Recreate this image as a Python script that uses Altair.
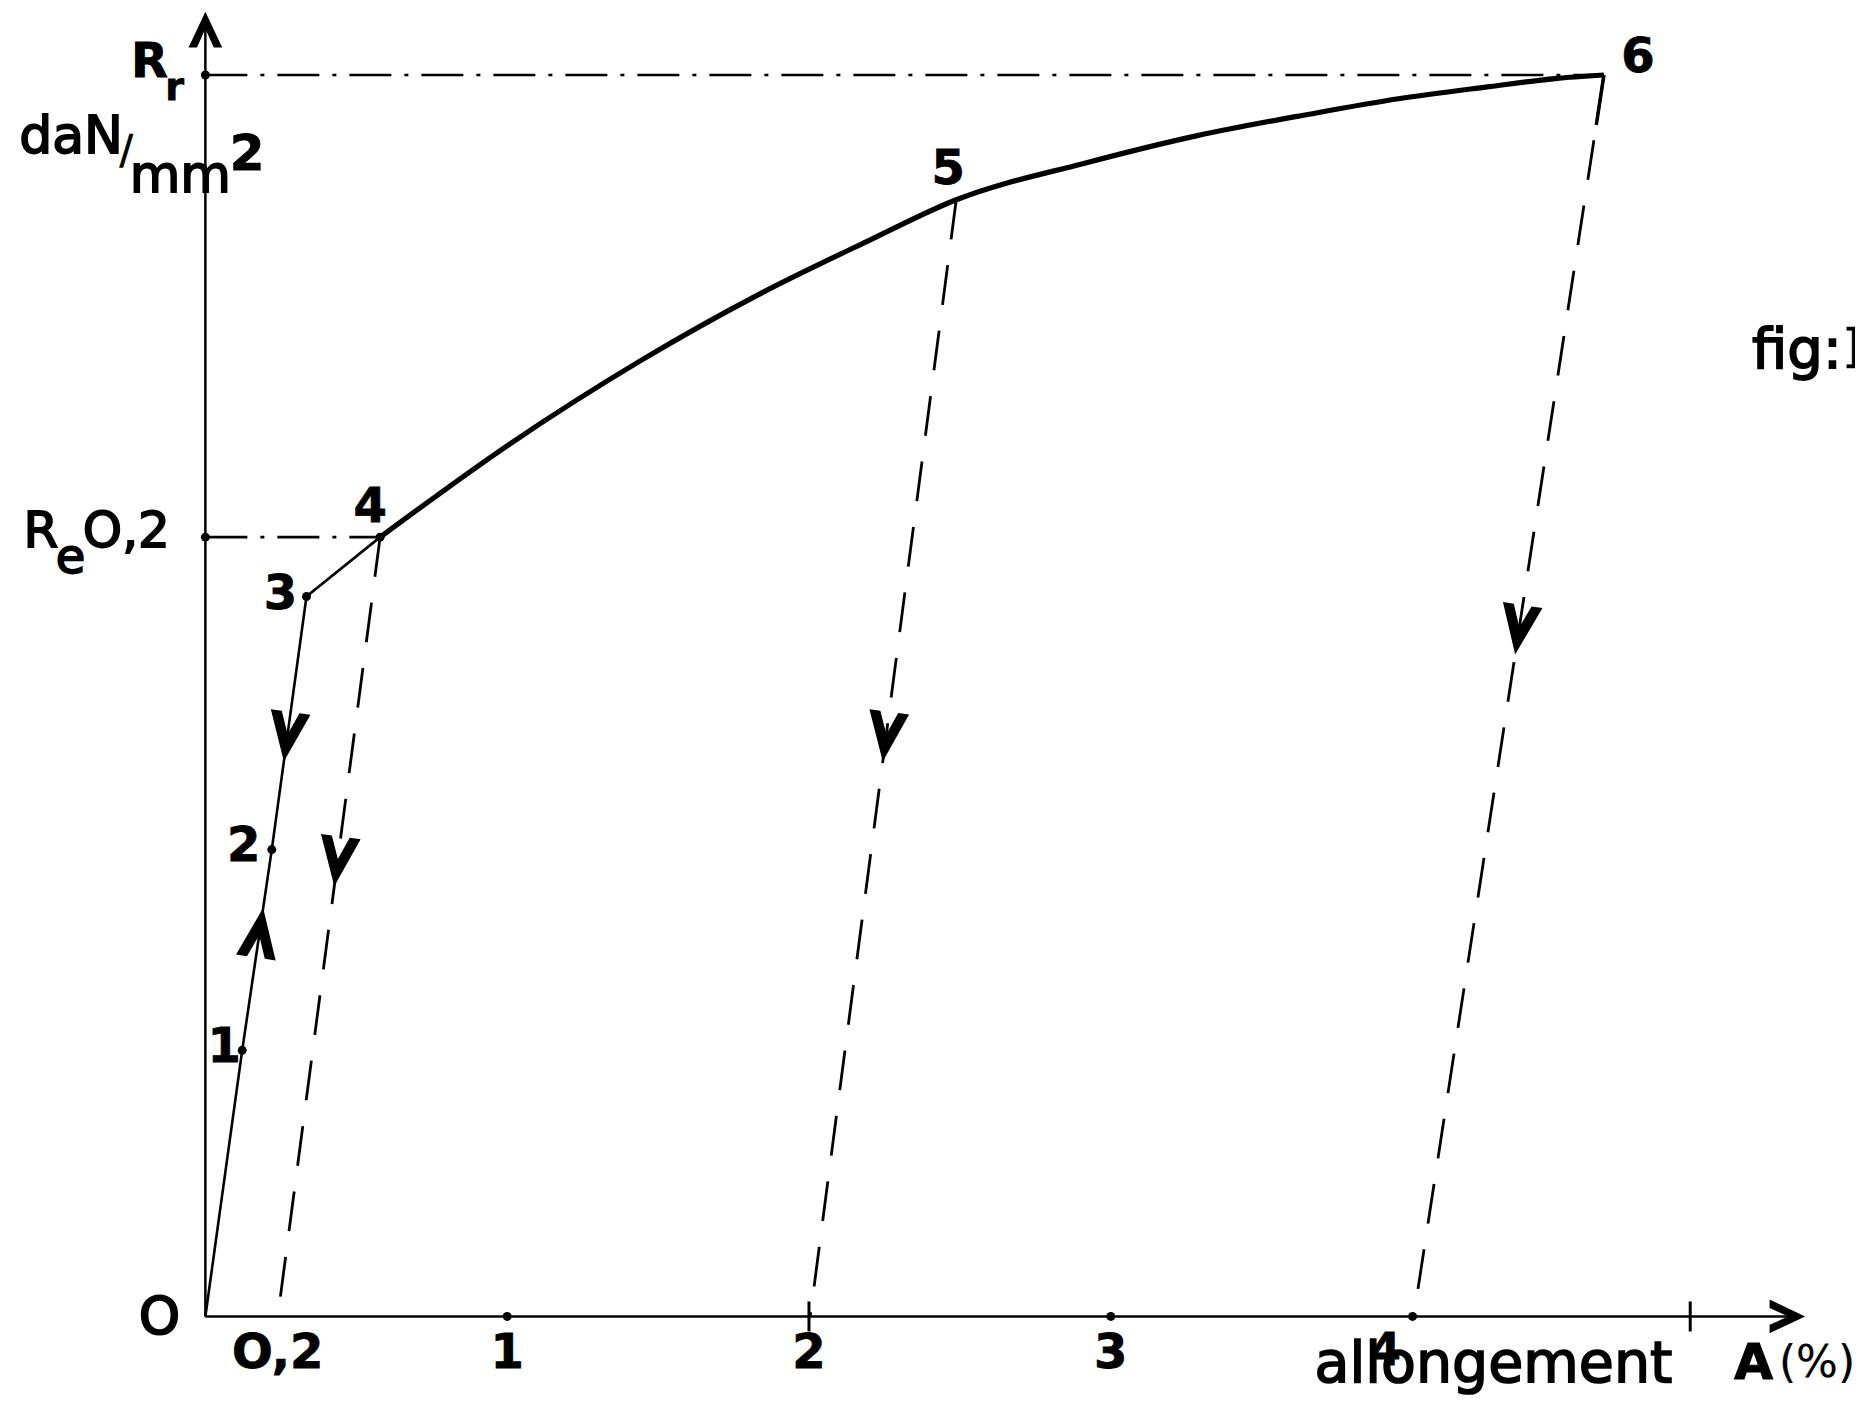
import math
import altair as alt
import pandas as pd

# ---------------- data ----------------
# elastic loading O -> 1 -> 2 -> 3   (x: elongation A %, y: stress, arbitrary units)
load_x = [0.0, 0.122, 0.220, 0.335]
load_y = [0.0, 2.24, 3.93, 6.06]
# plastic curve 4 -> 5 -> 6
curve_x = [0.579, 1.012, 1.445, 1.839, 2.193, 2.488, 2.917, 3.287, 3.657, 3.953, 4.248, 4.472, 4.634]
curve_y = [6.56, 7.35, 8.05, 8.61, 9.05, 9.40, 9.71, 9.94, 10.12, 10.25, 10.35, 10.42, 10.45]
# numbered points
pt_names = ["1", "2", "3", "4", "5", "6"]
pt_x = [0.122, 0.220, 0.335, 0.579, 2.488, 4.634]
pt_y = [2.24, 3.93, 6.06, 6.56, 9.40, 10.45]
# unloading from points 4, 5, 6 down to the residual elongation
unload_from = [3, 4, 5]
resid_x = [0.24, 2.004, 4.004]
# characteristic stresses
Rr = 10.45
Re02 = 6.56
# x axis ticks
tick_vals = [1, 2, 3, 4]
tick_labels = ["1", "2", "3", "4"]
extra_tick = 4.92
x_end = 5.28
y_end = 10.96
# arrow positions (stress level where the arrow sits)
arrow_up_load_y = 3.23
arrow_down_load_y = 4.88
arrow_unload_y = [3.83, 4.88, 5.78]

# ---------------- layout ----------------
W, H = 1847, 1389
X_DOM = [-0.654, 5.466]
Y_DOM = [-0.678, 11.014]
KX = W / (X_DOM[1] - X_DOM[0])
KY = H / (Y_DOM[1] - Y_DOM[0])
FONT = "DejaVu Sans"

xs = alt.Scale(domain=X_DOM, nice=False, zero=False)
ys = alt.Scale(domain=Y_DOM, nice=False, zero=False)


def X(f="x"):
    return alt.X(f"{f}:Q", scale=xs, axis=None)


def Y(f="y"):
    return alt.Y(f"{f}:Q", scale=ys, axis=None)


def angle_of(xa, ya, xb, yb):
    dxs = (xb - xa) * KX
    dys = -(yb - ya) * KY
    return math.degrees(math.atan2(-dxs, dys)) % 360


def x_on(xa, ya, xb, yb, yq):
    t = (yq - ya) / (yb - ya)
    return xa + t * (xb - xa)


layers = []

# axes
axes_df = pd.DataFrame({
    "x": [0.0, 0.0], "y": [0.0, 0.0], "x2": [0.0, x_end], "y2": [y_end, 0.0]
})
layers.append(alt.Chart(axes_df).mark_rule(color="black", strokeWidth=2.5).encode(
    x=X(), y=Y(), x2="x2:Q", y2="y2:Q"))

# dash-dot reference lines Rr and Re0.2
ref_df = pd.DataFrame({
    "x": [0.0, 0.0], "y": [Rr, Re02], "x2": [pt_x[5], pt_x[3]], "y2": [Rr, Re02]
})
layers.append(alt.Chart(ref_df).mark_rule(color="black", strokeWidth=2.6,
                                          strokeDash=[42, 13, 4, 13]).encode(
    x=X(), y=Y(), x2="x2:Q", y2="y2:Q"))

# unloading dashed lines
un_df = pd.DataFrame({
    "x": [pt_x[i] for i in unload_from],
    "y": [pt_y[i] for i in unload_from],
    "x2": resid_x,
    "y2": [0.0] * len(resid_x),
})
layers.append(alt.Chart(un_df).mark_rule(color="black", strokeWidth=2.8,
                                         strokeDash=[40, 26]).encode(
    x=X(), y=Y(), x2="x2:Q", y2="y2:Q"))
# short solid start below point 6
top6 = pd.DataFrame({
    "x": [pt_x[5]], "y": [pt_y[5]],
    "x2": [x_on(pt_x[5], pt_y[5], resid_x[2], 0.0, pt_y[5] - 0.42)],
    "y2": [pt_y[5] - 0.42],
})
layers.append(alt.Chart(top6).mark_rule(color="black", strokeWidth=3.5).encode(
    x=X(), y=Y(), x2="x2:Q", y2="y2:Q"))

# elastic loading line O-1-2-3 and straight 3-4
load_df = pd.DataFrame({"x": load_x + [pt_x[3]], "y": load_y + [pt_y[3]],
                        "o": list(range(len(load_x) + 1))})
layers.append(alt.Chart(load_df).mark_line(color="black", strokeWidth=2.6).encode(
    x=X(), y=Y(), order="o:Q"))

# plastic curve 4-5-6
curve_df = pd.DataFrame({"x": curve_x, "y": curve_y, "o": list(range(len(curve_x)))})
layers.append(alt.Chart(curve_df).mark_line(color="black", strokeWidth=5.2,
                                            interpolate="monotone").encode(
    x=X(), y=Y(), order="o:Q"))

# flow arrows
V_SHAPE = "M -0.8 -1 L 0 1 L 0.8 -1 L 0.36 -1 L 0 -0.1 L -0.36 -1 Z"
arr_rows = []
# up arrow on loading line (1 -> 2)
arr_rows.append({
    "x": x_on(pt_x[0], pt_y[0], pt_x[1], pt_y[1], arrow_up_load_y),
    "y": arrow_up_load_y,
    "ang": angle_of(pt_x[0], pt_y[0], pt_x[1], pt_y[1]),
})
# down arrow on loading line (3 -> 2)
arr_rows.append({
    "x": x_on(pt_x[2], pt_y[2], pt_x[1], pt_y[1], arrow_down_load_y),
    "y": arrow_down_load_y,
    "ang": angle_of(pt_x[2], pt_y[2], pt_x[1], pt_y[1]),
})
for k, i in enumerate(unload_from):
    arr_rows.append({
        "x": x_on(pt_x[i], pt_y[i], resid_x[k], 0.0, arrow_unload_y[k]),
        "y": arrow_unload_y[k],
        "ang": angle_of(pt_x[i], pt_y[i], resid_x[k], 0.0),
    })
arr_df = pd.DataFrame(arr_rows)
layers.append(alt.Chart(arr_df).mark_point(shape=V_SHAPE, filled=True, color="black",
                                           opacity=1, size=2500, strokeWidth=0).encode(
    x=X(), y=Y(), angle=alt.Angle("ang:Q", scale=None)))

# axis arrow heads
AX_SHAPE = "M -0.9 -1 L 0 0.9 L 0.9 -1 L 0.45 -1 L 0 0 L -0.45 -1 Z"
axarr_df = pd.DataFrame({"x": [0.0, x_end - 0.035], "y": [y_end - 0.12, 0.0], "ang": [180, 270]})
layers.append(alt.Chart(axarr_df).mark_point(shape=AX_SHAPE, filled=True, color="black",
                                             opacity=1, size=1400, strokeWidth=0).encode(
    x=X(), y=Y(), angle=alt.Angle("ang:Q", scale=None)))

# dots on points 1-4 and on axes
dots_df = pd.DataFrame({
    "x": pt_x[:4] + [0.0, 0.0, tick_vals[0], tick_vals[2], tick_vals[3]],
    "y": pt_y[:4] + [Rr, Re02, 0.0, 0.0, 0.0],
})
layers.append(alt.Chart(dots_df).mark_circle(color="black", opacity=1, size=80).encode(
    x=X(), y=Y()))

# small vertical ticks at 2 and the unlabeled 5th graduation
tk_df = pd.DataFrame({"x": [tick_vals[1], extra_tick]})
layers.append(alt.Chart(tk_df).mark_tick(color="black", thickness=3, size=30, opacity=1).encode(
    x=X(), y=alt.value(H - (0.0 - Y_DOM[0]) * KY)))


def label(t, x, y, size, bold=True, align="center", stroke=0.8, dx=0, dy=0, font=FONT):
    df = pd.DataFrame({"x": [x], "y": [y], "t": [t]})
    return alt.Chart(df).mark_text(font=font, fontSize=size,
                                   fontWeight="bold" if bold else "normal",
                                   align=align, baseline="middle", color="black",
                                   stroke="black", strokeWidth=stroke,
                                   dx=dx, dy=dy).encode(x=X(), y=Y(), text="t:N")


# point labels
pt_offsets = [(-18, -2), (-28, -3), (-26, -2), (-10, -29), (-8, -30), (34, -17)]
for name, x, y, (ox, oy) in zip(pt_names, pt_x, pt_y, pt_offsets):
    layers.append(label(name, x, y, 48, dx=ox, dy=oy))

# x tick labels
for v, t in zip(tick_vals[:3], tick_labels[:3]):
    layers.append(label(t, v, 0.0, 48, dy=38))
layers.append(label(tick_labels[3], tick_vals[3], 0.0, 44, dx=-27, dy=36))
layers.append(label("O,2", resid_x[0], 0.0, 48, dy=38))
layers.append(label("O", 0.0, 0.0, 52, bold=False, stroke=2.2, dx=-46, dy=2))

# axis titles
layers.append(label("allongement", 4.268, -0.41, 57, bold=False, stroke=1.7))
layers.append(label("A", 5.13, -0.40, 50, stroke=1.2))
layers.append(label("(%)", 5.34, -0.40, 44, bold=False, stroke=0.2))

# y-axis labels
layers.append(label("R", -0.185, 10.55, 48))
layers.append(label("r", -0.102, 10.33, 38))
layers.append(label("daN", -0.445, 9.93, 52, bold=False, stroke=1.8))
layers.append(label("/", -0.262, 9.80, 40, bold=False, stroke=0.6))
layers.append(label("mm", -0.083, 9.60, 52, bold=False, stroke=1.8))
layers.append(label("2", 0.138, 9.78, 50))
layers.append(label("R", -0.545, 6.60, 50, bold=False, stroke=1.8))
layers.append(label("e", -0.447, 6.38, 48, bold=False, stroke=1.8))
layers.append(label("O,2", -0.262, 6.60, 50, bold=False, stroke=1.8))

# figure tag (cut at the page edge)
layers.append(label("fig:", 5.125, 8.13, 56, align="left", bold=False, stroke=1.8))
layers.append(label("I", 5.43, 8.13, 56, align="left", bold=True, stroke=0.5,
                    font="DejaVu Serif"))

chart = alt.layer(*layers).properties(
    width=W, height=H,
    autosize=alt.AutoSizeParams(type="none"),
    padding=0,
    background="white",
).configure_view(stroke=None)

chart.save("out.html", embed_options={"renderer": "svg", "actions": False})
